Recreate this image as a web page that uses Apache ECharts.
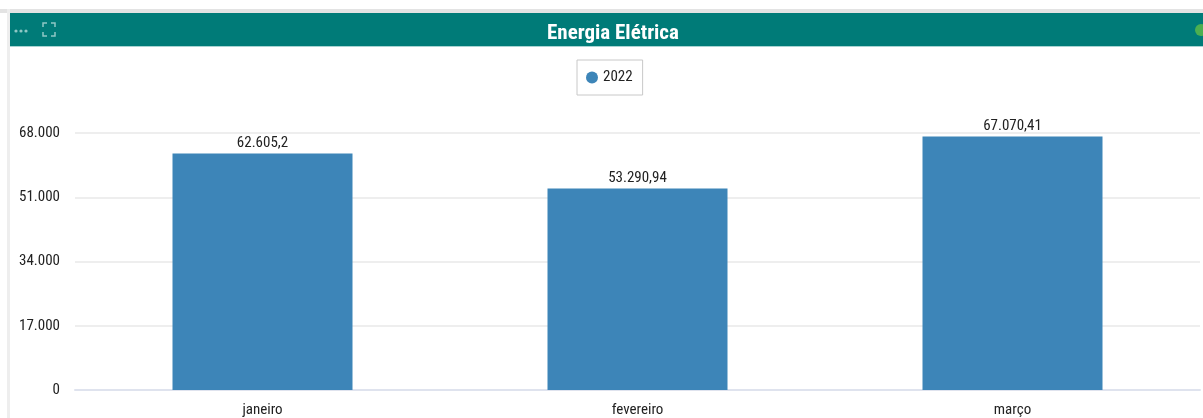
<!DOCTYPE html>
<html><head><meta charset="utf-8">
<script src="https://cdn.jsdelivr.net/npm/echarts@6/dist/echarts.min.js"></script>
<style>html,body{margin:0;padding:0;background:#fff}#c{width:1203px;height:418px}</style>
</head><body><div id="c"></div>
<script>
const categories = ['janeiro', 'fevereiro', 'março'];
const seriesName = '2022';
const values = [62605.2, 53290.94, 67070.41];
const yTicks = [0, 17000, 34000, 51000, 68000];

const FONT = "'Liberation Sans Narrow', 'Roboto Condensed', 'Liberation Sans', sans-serif";
function fmt(v) {
  const parts = v.toString().split('.');
  const intPart = parts[0].replace(/\B(?=(\d{3})+(?!\d))/g, '.');
  return parts.length > 1 ? intPart + ',' + parts[1] : intPart;
}
const iconStyle = {stroke: '#8fc7c5', lineWidth: 1.5, fill: null};
const corners = [
  [[43, 27], [43, 23], [47, 23]],
  [[51, 23], [55, 23], [55, 27]],
  [[55, 32], [55, 36], [51, 36]],
  [[47, 36], [43, 36], [43, 32]]
];
const chart = echarts.init(document.getElementById('c'));
chart.setOption({
  animation: false,
  graphic: [
    {type: 'rect', shape: {x: 0, y: 9, width: 1203, height: 4}, style: {fill: '#e3e3e3'}, z: 0},
    {type: 'rect', shape: {x: 7, y: 9, width: 3, height: 409}, style: {fill: '#eeeeee'}, z: 0},
    {type: 'rect', shape: {x: 10, y: 13, width: 1193, height: 33}, style: {fill: '#007b78'}, z: 1},
    {type: 'rect', shape: {x: 10, y: 46, width: 1193, height: 1}, style: {fill: '#a8d4d2'}, z: 1},
    {type: 'circle', shape: {cx: 16, cy: 31, r: 1.6}, style: {fill: '#8fc7c5'}, z: 2},
    {type: 'circle', shape: {cx: 21, cy: 31, r: 1.6}, style: {fill: '#8fc7c5'}, z: 2},
    {type: 'circle', shape: {cx: 26, cy: 31, r: 1.6}, style: {fill: '#8fc7c5'}, z: 2},
    ...corners.map(pts => ({type: 'polyline', shape: {points: pts}, style: iconStyle, z: 2})),
    {type: 'circle', shape: {cx: 1201, cy: 30, r: 6}, style: {fill: '#4caf50'}, z: 2}
  ],
  title: {
    text: 'Energia Elétrica', left: 542, top: 18,
    textStyle: {color: '#fff', fontSize: 21, fontWeight: 'bold', fontFamily: FONT}
  },
  legend: {
    data: [seriesName], top: 60, left: 577,
    icon: 'circle', itemWidth: 12, itemHeight: 12, itemGap: 6,
    borderColor: '#c8c8c8', borderWidth: 1, padding: [10, 10, 10, 9],
    textStyle: {fontSize: 15, color: '#222', fontFamily: FONT}
  },
  grid: {left: 75, right: 3, top: 133, bottom: 28, containLabel: false},
  xAxis: {
    type: 'category', data: categories,
    axisLine: {lineStyle: {color: '#dfe3ee', width: 2}},
    axisTick: {show: false},
    axisLabel: {fontSize: 15, color: '#222', fontFamily: FONT, margin: 13}
  },
  yAxis: {
    type: 'value', min: 0, max: 68000, interval: 17000,
    axisLine: {show: false}, axisTick: {show: false},
    splitLine: {lineStyle: {color: '#eeeeee', width: 2}},
    axisLabel: {fontSize: 15, color: '#222', fontFamily: FONT, margin: 15,
      formatter: v => fmt(v)}
  },
  series: [{
    name: seriesName, type: 'bar', data: values, barWidth: '48%',
    itemStyle: {color: '#3d85b8'},
    label: {show: true, position: 'top', distance: 3, fontSize: 15, color: '#222', fontFamily: FONT,
      formatter: p => fmt(p.value)}
  }]
});
</script></body></html>
